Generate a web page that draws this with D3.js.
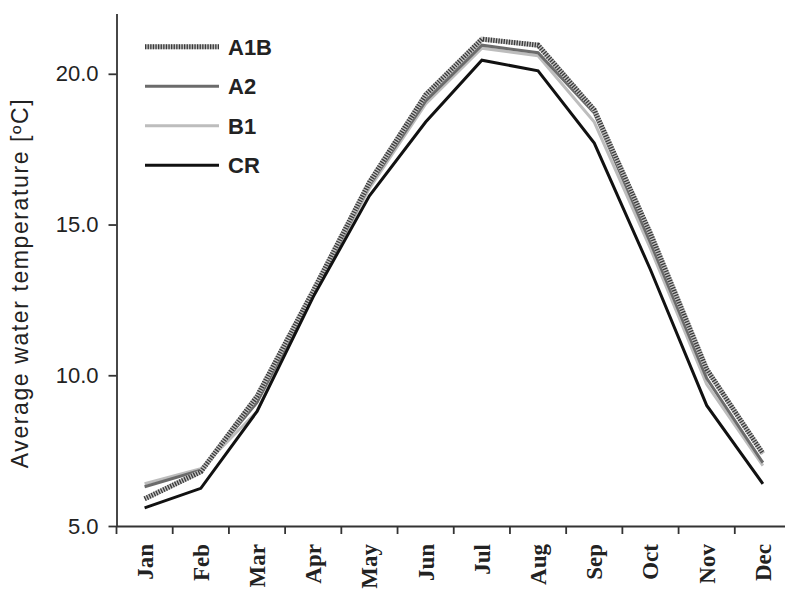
<!DOCTYPE html>
<html>
<head>
<meta charset="utf-8">
<script src="https://cdn.jsdelivr.net/npm/d3@7"></script>
<style>
  body { margin: 0; background: #fff; }
  svg { display: block; }
</style>
</head>
<body>
<svg id="chart"></svg>
<script>
const width = 785;
const height = 592;

const months = ['Jan', 'Feb', 'Mar', 'Apr', 'May', 'Jun', 'Jul', 'Aug', 'Sep', 'Oct', 'Nov', 'Dec'];
const a1b = [5.9, 6.8, 9.3, 12.8, 16.4, 19.3, 21.15, 20.95, 18.8, 14.7, 10.2, 7.4];
const a2 = [6.3, 6.85, 9.1, 12.7, 16.3, 19.1, 20.95, 20.7, 18.7, 14.4, 9.9, 7.1];
const b1 = [6.4, 6.9, 8.8, 12.7, 16.2, 19.0, 20.85, 20.6, 18.4, 14.2, 9.7, 7.0];
const cr = [5.6, 6.25, 8.8, 12.6, 15.95, 18.4, 20.45, 20.1, 17.7, 13.5, 9.0, 6.4];
const seriesNames = ['A1B', 'A2', 'B1', 'CR'];
const yTicks = [5, 10, 15, 20];

const svg = d3.select('#chart')
  .attr('width', width)
  .attr('height', height);

const x = d3.scaleBand()
  .domain(months)
  .range([116.5, 791]);

const y = d3.scaleLinear()
  .domain([5, 22])
  .range([526, 13.5]);

// series drawing styles
const styles = {
  A1B: [{ color: '#c4c4c4', w: 5 }, { color: '#3a3a3a', w: 5, dash: '1.3,1.3' }],
  A2: [{ color: '#6b6b6b', w: 3 }],
  B1: [{ color: '#bdbdbd', w: 3 }],
  CR: [{ color: '#111', w: 3 }]
};

const data = { A1B: a1b, A2: a2, B1: b1, CR: cr };
const drawOrder = ['B1', 'A2', 'A1B', 'CR'];

const line = d3.line()
  .x((d, i) => x(months[i]) + x.bandwidth() / 2)
  .y((d) => y(d));

drawOrder.forEach((name) => {
  styles[name].forEach((s) => {
    svg.append('path')
      .datum(data[name])
      .attr('fill', 'none')
      .attr('stroke', s.color)
      .attr('stroke-width', s.w)
      .attr('stroke-dasharray', s.dash || null)
      .attr('stroke-linejoin', 'miter')
      .attr('d', line);
  });
});

// y axis
const yAxis = d3.axisLeft(y)
  .tickValues(yTicks)
  .tickFormat(d3.format('.1f'))
  .tickSize(8)
  .tickSizeOuter(0)
  .tickPadding(10);

svg.append('g')
  .attr('transform', 'translate(116.5,0)')
  .call(yAxis)
  .call((g) => g.select('.domain').attr('stroke', '#333').attr('stroke-width', 1.8))
  .call((g) => g.selectAll('.tick line').attr('stroke', '#333').attr('stroke-width', 1.8))
  .call((g) => g.selectAll('.tick text')
    .attr('font-family', 'Liberation Sans, Arial, sans-serif')
    .attr('font-size', 22)
    .attr('fill', '#222'));

// x axis with ticks at band edges
const xAxis = d3.axisBottom(x)
  .tickSize(0)
  .tickSizeOuter(0);

const xg = svg.append('g')
  .attr('transform', 'translate(0,526)')
  .call(xAxis);

xg.select('.domain').attr('stroke', '#333').attr('stroke-width', 1.8);

xg.selectAll('.tick').each(function (d) {
  d3.select(this).append('line')
    .attr('x1', -x.bandwidth() / 2)
    .attr('x2', -x.bandwidth() / 2)
    .attr('y1', 0)
    .attr('y2', 8)
    .attr('stroke', '#333')
    .attr('stroke-width', 1.8);
});

xg.selectAll('.tick text')
  .attr('font-family', 'Liberation Serif, Times New Roman, serif')
  .attr('font-weight', 'bold')
  .attr('font-size', 23)
  .attr('fill', '#222')
  .attr('text-anchor', 'end')
  .attr('dy', null)
  .attr('y', 0)
  .attr('transform', 'translate(8,18) rotate(-90)');

// y axis title
svg.append('text')
  .attr('transform', 'translate(28,283) rotate(-90)')
  .attr('text-anchor', 'middle')
  .attr('font-family', 'Liberation Sans, Arial, sans-serif')
  .attr('font-size', 23)
  .attr('letter-spacing', 1.6)
  .attr('fill', '#222')
  .text('Average water temperature [ºC]');

// legend
const legendY = d3.scaleBand()
  .domain(seriesNames)
  .range([27, 185]);

const legend = svg.append('g');

seriesNames.forEach((name) => {
  const cy = legendY(name) + legendY.bandwidth() / 2;
  styles[name].forEach((s) => {
    legend.append('line')
      .attr('x1', 145)
      .attr('x2', 219)
      .attr('y1', cy)
      .attr('y2', cy)
      .attr('stroke', s.color)
      .attr('stroke-width', s.w)
      .attr('stroke-dasharray', s.dash || null);
  });
  legend.append('text')
    .attr('x', 228)
    .attr('y', cy + 8)
    .attr('font-family', 'Liberation Sans, Arial, sans-serif')
    .attr('font-weight', 'bold')
    .attr('font-size', 22)
    .attr('fill', '#222')
    .text(name);
});
</script>
</body>
</html>
